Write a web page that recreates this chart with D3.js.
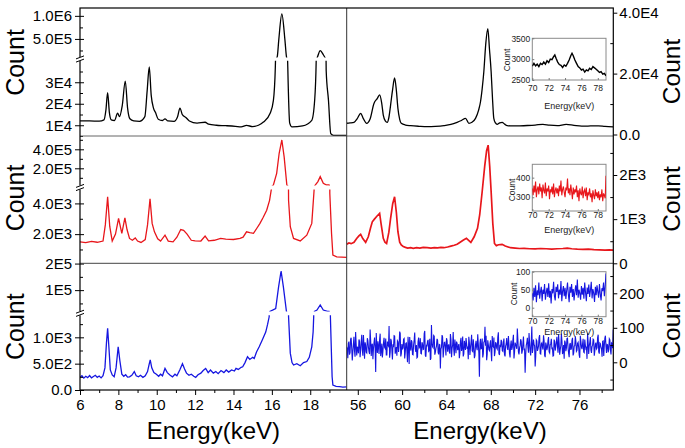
<!DOCTYPE html>
<html><head><meta charset="utf-8">
<script src="https://cdn.jsdelivr.net/npm/d3@7"></script>
<style>body{margin:0;background:#fff}svg{display:block;font-family:"Liberation Sans",Arial,sans-serif}</style>
</head><body><svg id="c" width="685" height="448"></svg>
<script>
// ---------------- DATA ----------------
// Left panel spectra (energy keV, counts)
const leftBlack = [[6.0,12000],[6.5,12000],[7.0,11900],[7.25,12500],[7.35,17000],[7.44,25200],[7.53,16000],[7.63,12500],[7.8,12200],[7.96,15600],[8.06,14000],[8.2,19000],[8.36,30500],[8.48,18000],[8.6,13000],[8.8,12000],[9.1,11800],[9.38,14000],[9.5,26000],[9.61,37100],[9.71,24000],[9.83,18000],[9.93,16000],[10.08,12800],[10.3,12200],[10.43,13000],[10.58,12000],[10.9,11800],[11.08,13800],[11.21,18000],[11.33,15000],[11.53,13500],[11.7,12000],[12.1,11000],[12.52,11400],[12.7,10500],[13.1,10000],[13.6,9800],[14.1,9500],[14.4,9200],[14.68,9900],[15.0,9400],[15.3,10000],[15.56,11500],[15.91,15600],[16.08,21600],[16.18,37000],[16.28,115000],[16.36,480000],[16.52,1040000],[16.68,480000],[16.76,115000],[16.8,50000],[16.83,37000],[16.93,11000],[17.05,9200],[17.6,9700],[18.08,12300],[18.23,21600],[18.31,40000],[18.38,115000],[18.52,246000],[18.69,152000],[18.78,87000],[18.83,35600],[18.95,21600],[19.07,6100],[19.21,5300],[19.9,5300]];
const leftRed = [[6.0,1500],[6.3,1450],[6.6,1530],[6.9,1470],[7.2,1550],[7.32,2600],[7.44,4430],[7.55,2500],[7.68,1550],[7.85,2000],[8.01,3020],[8.18,2050],[8.34,3060],[8.45,2300],[8.58,1720],[8.73,1600],[8.88,1750],[9.0,1550],[9.18,1460],[9.4,1650],[9.52,2600],[9.65,4300],[9.76,2700],[9.88,2150],[10.05,1700],[10.2,1550],[10.43,1930],[10.6,1550],[10.85,1500],[11.05,1800],[11.25,2300],[11.4,2250],[11.58,2000],[11.8,1600],[12.0,1560],[12.3,1550],[12.52,1870],[12.7,1560],[13.0,1600],[13.33,1720],[13.6,1680],[14.0,1650],[14.34,1720],[14.5,1800],[14.68,2150],[14.85,2100],[15.04,2050],[15.2,2350],[15.38,2700],[15.55,3100],[15.73,3560],[15.88,4200],[15.98,4980],[16.08,24000],[16.25,147000],[16.38,358000],[16.52,498000],[16.64,320000],[16.78,24000],[16.87,4200],[16.96,2480],[17.13,1720],[17.48,1560],[17.82,1930],[18.08,2700],[18.2,4860],[18.26,24000],[18.4,60000],[18.52,112000],[18.68,42000],[18.85,24000],[18.98,24000],[19.02,4650],[19.11,2045],[19.18,630],[19.38,520],[19.9,480]];
const leftBlue = [[6.0,240],[6.1,270],[6.2,225],[6.3,260],[6.4,235],[6.5,275],[6.6,230],[6.7,255],[6.8,280],[6.9,240],[7.0,265],[7.1,230],[7.2,270],[7.3,420],[7.38,900],[7.44,1170],[7.5,850],[7.58,380],[7.68,285],[7.78,250],[7.88,420],[7.99,820],[8.08,550],[8.18,300],[8.28,260],[8.38,290],[8.48,245],[8.58,250],[8.7,280],[8.83,350],[8.93,270],[9.05,250],[9.15,280],[9.28,240],[9.4,270],[9.52,350],[9.6,480],[9.66,570],[9.74,420],[9.85,330],[9.98,300],[10.1,260],[10.2,300],[10.3,270],[10.43,410],[10.55,330],[10.7,280],[10.82,250],[10.95,300],[11.05,270],[11.2,380],[11.34,500],[11.45,400],[11.55,320],[11.68,280],[11.8,300],[11.93,260],[12.03,240],[12.15,290],[12.3,320],[12.42,370],[12.55,410],[12.68,330],[12.8,380],[12.95,320],[13.08,350],[13.2,310],[13.35,370],[13.5,330],[13.62,380],[13.75,340],[13.9,380],[14.05,360],[14.13,410],[14.25,390],[14.4,430],[14.48,440],[14.6,520],[14.73,630],[14.85,580],[15.0,620],[15.08,600],[15.2,720],[15.34,820],[15.5,950],[15.68,1100],[15.78,1250],[15.86,1390],[15.9,20000],[16.2,31000],[16.35,112000],[16.48,172000],[16.6,112000],[16.76,19500],[16.87,1390],[16.96,700],[17.05,520],[17.13,475],[17.3,500],[17.48,460],[17.65,520],[17.82,540],[17.95,620],[18.08,820],[18.15,1100],[18.18,1390],[18.22,20000],[18.35,25000],[18.52,44000],[18.68,25000],[18.9,20000],[18.98,20000],[19.05,1390],[19.14,250],[19.18,95],[19.35,70],[19.53,63],[19.7,55],[19.9,60]];

// Right panel spectra
const rightBlack = [[55.0,3700],[55.3,3800],[55.66,4000],[55.95,5200],[56.26,6950],[56.5,5200],[56.8,3670],[57.1,5000],[57.46,10200],[57.75,11800],[57.97,13000],[58.15,10500],[58.3,6400],[58.48,4500],[58.66,4000],[58.8,5500],[58.96,9670],[59.15,15000],[59.32,18600],[59.48,14500],[59.62,8600],[59.78,5000],[59.92,3670],[60.3,3100],[60.77,2900],[61.5,2700],[62.26,2560],[63.0,2650],[63.77,2900],[64.4,3300],[64.96,4000],[65.35,4600],[65.72,5300],[66.02,3670],[66.3,4000],[66.62,5300],[66.9,8000],[67.07,10750],[67.22,15000],[67.37,20600],[67.55,30000],[67.73,34800],[67.88,28000],[68.03,20600],[68.15,12000],[68.27,5300],[68.42,3800],[68.57,3340],[68.8,3800],[69.02,4000],[69.25,3400],[69.47,2900],[70.0,2800],[70.6,2850],[71.3,2950],[72.0,3100],[72.7,3350],[73.3,3050],[74.0,2900],[74.8,3300],[75.5,3000],[76.2,2750],[77.0,2800],[77.7,2850],[78.3,2650],[79.05,2500]];
const rightRed = [[55.0,430],[55.2,460],[55.4,445],[55.66,475],[55.9,560],[56.1,620],[56.26,656],[56.45,560],[56.71,475],[56.95,600],[57.15,800],[57.31,940],[57.5,1000],[57.7,1060],[57.97,1130],[58.1,900],[58.3,565],[58.45,480],[58.6,450],[58.8,700],[58.96,1018],[59.15,1350],[59.32,1507],[59.48,1150],[59.62,715],[59.78,480],[59.92,414],[60.1,380],[60.3,360],[60.5,345],[60.77,353],[61.0,340],[61.3,355],[61.6,345],[61.9,360],[62.26,353],[62.6,345],[62.9,355],[63.2,350],[63.5,360],[63.77,353],[64.1,370],[64.4,390],[64.7,410],[64.96,430],[65.2,470],[65.5,520],[65.8,565],[66.0,520],[66.2,475],[66.5,600],[66.8,792],[67.0,1100],[67.22,1620],[67.45,2200],[67.62,2550],[67.76,2676],[67.9,2200],[68.03,1620],[68.18,900],[68.33,450],[68.5,400],[68.7,420],[69.02,430],[69.3,390],[69.77,353],[70.2,345],[70.6,335],[71.0,340],[71.5,330],[72.0,325],[72.5,335],[73.0,330],[73.5,320],[74.0,330],[74.5,335],[74.9,345],[75.3,330],[75.8,320],[76.3,315],[76.8,320],[77.3,310],[77.8,305],[78.3,300],[78.7,305],[79.05,300]];
// Blue right: channels from 55.0 keV; even channels and odd channels
const rightBlueStart = 55.0, rightBlueStep = 0.0503;
const rightBlueEven = [45,12,60,28,71,5,52,33,88,20,41,66,15,58,37,79,10,49,27,63,
31,95,18,54,40,72,-28,47,61,24,83,36,14,57,43,69,21,50,105,29,
62,8,44,76,35,19,59,48,84,26,39,67,11,55,32,74,-5,46,64,23,
51,86,30,13,60,42,70,25,53,38,91,16,48,65,34,7,108,45,78,22,
40,68,28,52,-18,44,73,36,58,20,63,47,30,82,15,50,37,66,26,55,
41,12,61,33,75,24,49,70,39,9,57,43,80,31,46,19,62,35,54,-42,
68,40,14,59,103,77,23,51,34,64,3,48,72,29,56,38,87,21,44,60,
32,69,17,53,42,76,26,50,36,63,11,57,46,98,30,41,67,25,55,35,
-30,49,71,28,58,20,104,39,52,-12,65,33,47,79,24,56,37,62,15,50,
43,73,27,54,40,18,66,34,59,45,81,22,48,63,31,10,57,41,70,26,
52,36,64,20,47,75,32,55,44,13,61,38,68,28,50,42,84,24,58,35,
46,67,19,53,39,72,30,56,43,16,62,48,77,27,51,37,65,23,54,95];
const rightBlueOdd = [38,55,22,67,41,30,74,16,52,45,26,61,35,80,19,48,58,29,70,43,
24,63,50,9,57,39,85,27,46,66,18,54,33,71,40,21,60,47,13,68,
36,52,77,25,44,62,30,89,17,53,41,69,28,56,0,48,73,34,59,22,
65,39,50,15,72,45,26,58,37,83,20,49,61,32,68,11,55,42,76,29,
47,64,23,51,38,79,14,57,44,70,31,52,25,66,40,88,19,48,60,35,
53,27,71,42,17,62,36,55,46,74,21,58,33,67,12,50,43,81,28,56,
39,69,24,60,48,6,64,37,53,30,76,45,18,57,41,73,26,51,65,34,
58,22,47,70,36,54,14,63,43,80,29,52,39,67,23,49,61,33,75,40,
21,56,44,85,31,59,27,66,48,16,62,38,72,25,53,45,78,20,57,35,
64,30,51,68,41,19,60,46,74,28,55,37,83,24,50,63,32,69,43,15,
56,40,71,26,48,62,35,58,21,77,44,53,30,66,39,10,59,47,73,27,
49,65,33,57,42,80,25,54,38,61,18,70,45,52,29,68,36,56,41,60];

// Inset spectra (70-79 keV)
const insetBlack = [[70.0,2830],[70.2,2900],[70.4,2840],[70.6,2880],[70.8,2820],[71.0,2900],[71.2,2870],[71.4,2930],[71.6,2880],[71.8,2960],[72.0,2920],[72.2,3000],[72.4,2990],[72.6,3060],[72.75,3100],[72.9,3020],[73.1,2930],[73.3,2870],[73.5,2850],[73.7,2800],[73.9,2860],[74.1,2830],[74.3,2900],[74.5,2980],[74.7,3080],[74.85,3140],[75.0,3080],[75.2,2980],[75.4,2900],[75.6,2820],[75.8,2790],[76.0,2740],[76.2,2760],[76.4,2690],[76.6,2740],[76.8,2720],[77.0,2780],[77.2,2750],[77.4,2820],[77.6,2790],[77.8,2760],[78.0,2720],[78.2,2680],[78.4,2700],[78.6,2640],[78.8,2660],[79.0,2600]];
const insetStart = 70.0, insetStep = 0.1;
const insetRed = [345,310,360,325,380,300,340,355,315,370,
330,350,295,365,335,320,375,305,345,330,
360,290,340,325,355,315,370,300,335,350,
320,345,305,360,330,385,310,340,355,325,
300,350,335,395,320,345,310,365,330,290,
350,315,340,325,360,300,335,280,345,320,
310,355,295,330,340,305,350,285,325,315,
345,300,320,275,335,310,290,340,305,325,
295,330,285,315,300,340,280,320,310,295,410];
const insetBlue = [40,20,55,30,62,15,48,35,70,25,
45,58,18,50,38,66,22,42,55,30,
68,28,47,12,52,40,72,33,20,58,
44,65,26,50,36,74,18,46,60,32,
55,24,48,70,38,15,58,42,66,30,
52,20,45,62,35,78,28,50,40,22,
60,36,55,25,70,42,18,56,38,64,
30,48,72,26,52,40,16,58,35,62,
44,28,66,38,20,54,46,70,32,60,95];

// Axis domains and ticks
const leftEnergyDomain = [6, 19.9];
const rightEnergyDomain = [55, 79.05];
const insetEnergyDomain = [70, 79];
const leftXTicks = [6,8,10,12,14,16,18];
const leftXMinor = [7,9,11,13,15,17,19];
const rightXTicks = [56,60,64,68,72,76];
const rightXMinor = [58,62,66,70,74,78];
const lowDomains = [[5000,40000],[100,4900],[0,1420]];
const upDomains = [[1e5,1.17e6],[2e4,5.4e5],[2e4,2.01e5]];
const lowTicks = [[1e4,2e4,3e4],[2000,4000],[0,500,1000]];
const lowLabels = [["1E4","2E4","3E4"],["2.0E3","4.0E3"],["0.0","5.0E2","1.0E3"]];
const lowMinor = [[5000,15000,25000,35000],[1000,3000],[250,750,1250]];
const upTicks = [[5e5,1e6],[2e5,4e5],[1e5,2e5]];
const upLabels = [["5.0E5","1.0E6"],["2.0E5","4.0E5"],["1E5","2E5"]];
const upMinor = [[2.5e5,7.5e5],[1e5,3e5,5e5],[5e4,1.5e5]];
const rightDomains = [[0,4e4],[0,2000],[0,200]];
const rightTicks = [[0,2e4,4e4],[0,1000,2000],[0,100,200]];
const rightLabels = [["0.0","2.0E4","4.0E4"],["0","1E3","2E3"],["0","100","200"]];
const rightMinor = [[1e4,3e4],[500,1500,2500],[-50,50,150,250]];
const insetDomains = [[2500,3500],[230,468],[-25,100]];
const insetYTicks = [[2500,3000,3500],[300,400],[0,50,100]];
const insetXTicks = [70,72,74,76,78];
const colors = ["#000000","#e8161b","#1616e0"];

// ---------------- LAYOUT ----------------
const svg = d3.select('#c');
const defs = svg.append('defs');
const X0 = 80, XM = 346.7, X1 = 613.3, YB = 390;
const rows = [
  {top:8, bottom:136, brk:59, low:[136,60.75], up:[57.4,8], cy:62.5, rcy:71.5, rr:[134.5,12.7]},
  {top:136, bottom:263.3, brk:187.5, low:[263.3,189.6], up:[185.4,136], cy:198, rcy:199, rr:[263.3,175]},
  {top:263.3, bottom:390, brk:313.3, low:[390,315.2], up:[311.4,263.3], cy:326.7, rcy:326, rr:[362.3,293.3]}
];
const insets = [
  {y0:38.3, y1:80, lblY:90.5, titleY:109, countX:509.5, countY:60},
  {y0:164.3, y1:211, lblY:218, titleY:233, countX:514.5, countY:190},
  {y0:271.7, y1:316.7, lblY:323.5, titleY:334.5, countX:517, countY:294}
];
const IX0 = 532.3, IX1 = 606;

const xL = d3.scaleLinear().domain(leftEnergyDomain).range([X0, XM]);
const xR = d3.scaleLinear().domain(rightEnergyDomain).range([XM, X1]);
const xI = d3.scaleLinear().domain(insetEnergyDomain).range([IX0, IX1]);

function clip(id, x, y, w, h) {
  defs.append('clipPath').attr('id', id).append('rect')
    .attr('x', x).attr('y', y).attr('width', w).attr('height', h);
  return `url(#${id})`;
}
function styleAxis(g, size) {
  g.select('.domain').remove();
  g.selectAll('text').attr('font-size', size).attr('fill', '#000')
    .attr('font-family', '"Liberation Sans", Arial, sans-serif');
  g.selectAll('line').attr('stroke', '#000');
}

const rightBlue = d3.merge(rightBlueEven.map((v, i) => [v, rightBlueOdd[i]]));
const leftSeries = [leftBlack, leftRed, leftBlue];
const rightSeries = [rightBlack, rightRed,
  rightBlue.map((v, i) => [rightBlueStart + i * rightBlueStep, v])];
const insetSeries = [insetBlack,
  insetRed.map((v, i) => [insetStart + i * insetStep, v]),
  insetBlue.map((v, i) => [insetStart + i * insetStep, v])];

rows.forEach((r, i) => {
  const yLo = d3.scaleLinear().domain(lowDomains[i]).range(r.low);
  const yUp = d3.scaleLinear().domain(upDomains[i]).range(r.up);
  const yR = d3.scaleLinear().domain(rightDomains[i]).range(r.rr);
  const smooth = i === 0 ? d3.curveMonotoneX : d3.curveLinear;

  // left: lower segment and upper segment
  const cLo = clip('lo' + i, X0, r.low[1], XM - X0, r.low[0] - r.low[1]);
  const cUp = clip('up' + i, X0, r.up[1], XM - X0, r.up[0] - r.up[1]);
  svg.append('path').datum(leftSeries[i]).attr('clip-path', cLo)
    .attr('fill', 'none').attr('stroke', colors[i]).attr('stroke-width', 1.3)
    .attr('d', d3.line().x(d => xL(d[0])).y(d => yLo(d[1])).curve(smooth));
  svg.append('path').datum(leftSeries[i]).attr('clip-path', cUp)
    .attr('fill', 'none').attr('stroke', colors[i]).attr('stroke-width', 1.3)
    .attr('d', d3.line().x(d => xL(d[0])).y(d => yUp(d[1])).curve(smooth));

  // right
  const cR = clip('r' + i, XM, r.top, X1 - XM, r.bottom - r.top);
  svg.append('path').datum(rightSeries[i]).attr('clip-path', cR)
    .attr('fill', 'none').attr('stroke', colors[i]).attr('stroke-width', i === 0 ? 1.3 : (i === 1 ? 1.7 : 1.1))
    .attr('d', d3.line().x(d => xR(d[0])).y(d => yR(d[1])).curve(i === 2 ? d3.curveLinear : smooth));

  // left axes
  [[yLo, lowTicks[i], lowLabels[i], lowMinor[i]], [yUp, upTicks[i], upLabels[i], upMinor[i]]].forEach(([s, t, l, m]) => {
    svg.append('g').attr('transform', `translate(${X0},0)`)
      .call(d3.axisLeft(s).tickValues(t).tickFormat((d, k) => l[k]).tickSize(5).tickPadding(3))
      .call(g => styleAxis(g, 15));
    svg.append('g').attr('transform', `translate(${X0},0)`)
      .call(d3.axisLeft(s).tickValues(t).tickFormat('').tickSize(-4))
      .call(g => styleAxis(g, 15));
    svg.append('g').attr('transform', `translate(${X0},0)`)
      .call(d3.axisLeft(s).tickValues(m).tickFormat('').tickSize(-3))
      .call(g => styleAxis(g, 15));
  });
  // right axis
  svg.append('g').attr('transform', `translate(${X1},0)`)
    .call(d3.axisRight(yR).tickValues(rightTicks[i]).tickFormat((d, k) => rightLabels[i][k]).tickSize(4).tickPadding(2))
    .call(g => styleAxis(g, 15));
  svg.append('g').attr('transform', `translate(${X1},0)`)
    .call(d3.axisRight(yR).tickValues(rightMinor[i].filter(v => yR(v) > r.top + 1 && yR(v) < r.bottom - 1)).tickFormat('').tickSize(-3))
    .call(g => styleAxis(g, 15));

  // Count labels
  svg.append('text').attr('transform', `translate(23.5,${r.cy}) rotate(-90)`)
    .attr('text-anchor', 'middle').attr('font-size', 25).text('Count');
  svg.append('text').attr('transform', `translate(679.5,${r.rcy}) rotate(-90)`)
    .attr('text-anchor', 'middle').attr('font-size', 24.5).text('Count');

  // inset
  const ins = insets[i];
  const yI = d3.scaleLinear().domain(insetDomains[i]).range([ins.y1, ins.y0]);
  svg.append('rect').attr('x', IX0).attr('y', ins.y0).attr('width', IX1 - IX0).attr('height', ins.y1 - ins.y0)
    .attr('fill', '#fff').attr('stroke', '#8a8a8a').attr('stroke-width', 1);
  const cI = clip('i' + i, IX0, ins.y0, IX1 - IX0, ins.y1 - ins.y0);
  svg.append('path').datum(insetSeries[i]).attr('clip-path', cI)
    .attr('fill', 'none').attr('stroke', colors[i]).attr('stroke-width', i === 0 ? 1.4 : 1.1)
    .attr('d', d3.line().x(d => xI(d[0])).y(d => yI(d[1])));
  const gy = svg.append('g').attr('transform', `translate(${IX0},0)`)
    .call(d3.axisLeft(yI).tickValues(insetYTicks[i]).tickFormat(d3.format('d')).tickSize(-2).tickPadding(2));
  gy.select('.domain').remove();
  gy.selectAll('text').attr('font-size', 8.5).attr('fill', '#222').attr('font-family', '"Liberation Sans", Arial, sans-serif');
  gy.selectAll('line').attr('stroke', '#777');
  const gx = svg.append('g').attr('transform', `translate(0,${ins.y1})`)
    .call(d3.axisBottom(xI).tickValues(insetXTicks).tickFormat(d3.format('d')).tickSize(-2).tickPadding(1));
  gx.select('.domain').remove();
  gx.selectAll('text').attr('font-size', 8.5).attr('fill', '#222').attr('y', ins.lblY - ins.y1 - 6).attr('dy', '0.71em')
    .attr('font-family', '"Liberation Sans", Arial, sans-serif');
  gx.selectAll('line').attr('stroke', '#777');
  svg.append('text').attr('x', (IX0 + IX1) / 2).attr('y', ins.titleY).attr('text-anchor', 'middle')
    .attr('font-size', 9).attr('fill', '#222').text('Energy(keV)');
  svg.append('text').attr('transform', `translate(${ins.countX},${ins.countY}) rotate(-90)`)
    .attr('text-anchor', 'middle').attr('font-size', 8.5).attr('fill', '#222').text('Count');
});

// frame and dividers
const frame = svg.append('g').attr('fill', 'none');
frame.append('line').attr('x1', X0).attr('x2', X1).attr('y1', 136).attr('y2', 136).attr('stroke', '#666');
frame.append('line').attr('x1', X0).attr('x2', X1).attr('y1', 263.3).attr('y2', 263.3).attr('stroke', '#444');
frame.append('line').attr('x1', XM).attr('x2', XM).attr('y1', 8).attr('y2', YB).attr('stroke', '#333');
frame.append('rect').attr('x', X0).attr('y', 8).attr('width', X1 - X0).attr('height', YB - 8).attr('stroke', '#000').attr('stroke-width', 1.2);

// break marks on left axis
rows.forEach(r => {
  const g = svg.append('g');
  g.append('rect').attr('x', X0 - 4).attr('y', r.brk - 2).attr('width', 8).attr('height', 4).attr('fill', '#fff');
  [-1.6, 1.6].forEach(o => g.append('line')
    .attr('x1', X0 - 4).attr('y1', r.brk + o + 1.5).attr('x2', X0 + 4).attr('y2', r.brk + o - 1.5)
    .attr('stroke', '#000').attr('stroke-width', 1));
});

// bottom axes
[[xL, leftXTicks, leftXMinor], [xR, rightXTicks, rightXMinor]].forEach(([s, t, m]) => {
  svg.append('g').attr('transform', `translate(0,${YB})`)
    .call(d3.axisBottom(s).tickValues(t).tickSize(5).tickPadding(4))
    .call(g => styleAxis(g, 15));
  svg.append('g').attr('transform', `translate(0,${YB})`)
    .call(d3.axisBottom(s).tickValues(m).tickFormat('').tickSize(3))
    .call(g => styleAxis(g, 15));
});
svg.append('text').attr('x', (X0 + XM) / 2).attr('y', 438.5).attr('text-anchor', 'middle').attr('font-size', 24).text('Energy(keV)');
svg.append('text').attr('x', (XM + X1) / 2).attr('y', 438.5).attr('text-anchor', 'middle').attr('font-size', 24).text('Energy(keV)');
</script></body></html>
